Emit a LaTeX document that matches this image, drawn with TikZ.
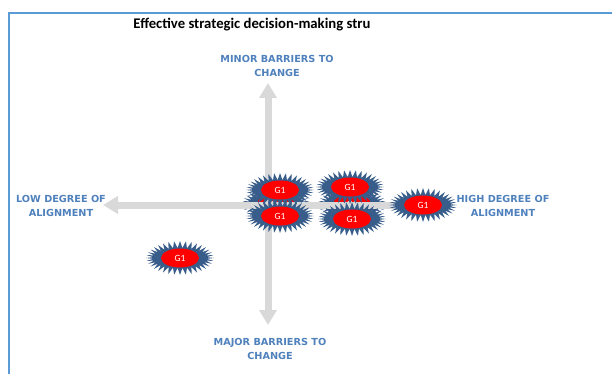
\documentclass[tikz,border=0pt]{standalone}
\usepackage{fontspec}
\setmainfont{Carlito}
\newfontfamily\axisfont{DejaVu Sans}
\usetikzlibrary{shapes.symbols}
\usetikzlibrary{shapes.geometric}
\usetikzlibrary{arrows.meta}
\definecolor{axisblue}{RGB}{79,129,189}
\definecolor{frameblue}{RGB}{91,155,213}
\definecolor{burstblue}{RGB}{56,93,138}
\definecolor{axisgray}{RGB}{217,217,217}
\tikzset{
    burst/.style = {starburst, starburst points=36, starburst point height=7pt, random starburst=0, fill=burstblue, draw=none, minimum width=68pt, minimum height=34pt, inner sep=0pt},
    core/.style = {ellipse, fill=red, minimum width=38pt, minimum height=19pt, inner sep=0pt, text=white, font=\fontsize{9.5}{10}\selectfont},
    axis/.style = {line width=7pt, draw=axisgray, -{Triangle[width=17pt,length=15pt]}},
    axislabel/.style = {align=center, text=axisblue, font=\axisfont\bfseries\fontsize{9.7}{13.5}\selectfont},
    frame/.style = {draw=frameblue, line width=1.5pt}
}
\begin{document}
\begin{tikzpicture}[x=1pt,y=-1pt]
\useasboundingbox (0,0) rectangle (612,374);
%
\draw[frame] (9,374) -- (9,13) -- (612,13);
\node[font=\bfseries\fontsize{14.7}{16}\selectfont] at (252,25) (title) {Effective strategic decision-making stru};
%
\coordinate (o) at (268,205);
\coordinate (top) at (268,83);
\coordinate (bottom) at (268,325);
\coordinate (low) at (103,205);
\coordinate (high) at (440,205);
%
\node[axislabel] at (277,66) (minor) {MINOR BARRIERS TO\\CHANGE};
\node[axislabel] at (270,349) (major) {MAJOR BARRIERS TO\\CHANGE};
\node[axislabel] at (61,206) (lowdeg) {LOW DEGREE OF\\ALIGNMENT};
\node[axislabel] at (503,206) (highdeg) {HIGH DEGREE OF\\ALIGNMENT};
%
\node[burst, label={[core]center:G1}] at (276,204) (g1) {};
\node[burst, label={[core]center:G1}] at (352,204) (g4) {};
%
\draw[axis] (o) -- (top);
\draw[axis] (o) -- (bottom);
\draw[axis] (o) -- (low);
\draw[axis] (o) -- (high);
%
\node[burst, label={[core]center:G1}] at (280,190) (g2) {};
\node[burst, label={[core]center:G1}] at (280,216) (g3) {};
\node[burst, label={[core]center:G1}] at (350,187) (g5) {};
\node[burst, label={[core]center:G1}] at (352,219) (g6) {};
\node[burst, label={[core]center:G1}] at (423,205) (g7) {};
\node[burst, label={[core]center:G1}] at (180,258) (g8) {};

\end{tikzpicture}
\end{document}
